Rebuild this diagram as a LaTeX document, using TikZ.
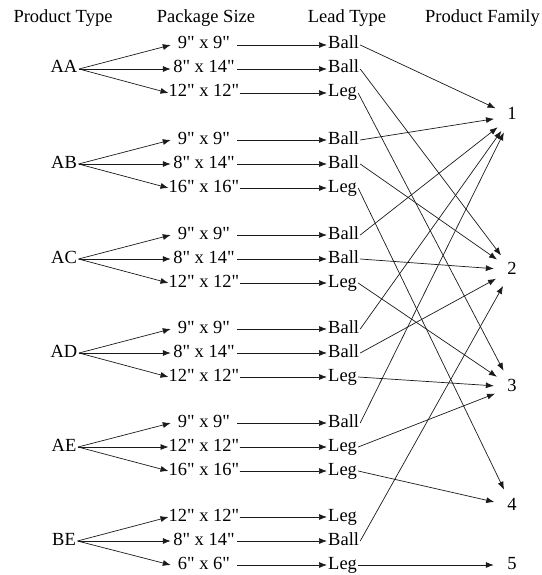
\documentclass[tikz,border=0pt]{standalone}
\usepackage{fontspec}
\setmainfont{Liberation Serif}[Ligatures=TeXOff]
\usepackage{xcolor}
\definecolor{cLine}{HTML}{1A1A1A}
\definecolor{cText}{HTML}{000000}
\usetikzlibrary{positioning,arrows.meta}
\tikzset{
  node-text/.style={font=\fontsize{18.5}{20}\selectfont,text=cText,
    text height=12pt,text depth=4pt},
  node-head/.style={node-text,inner sep=0pt},
  node-type/.style={node-text,inner sep=1.5pt},
  node-size/.style={node-text,inner sep=0pt,minimum width=66pt,align=center},
  node-lead/.style={node-text,inner sep=1pt,anchor=west},
  node-family/.style={node-text,circle,minimum size=36pt,inner sep=0pt},
  arrow/.style={-{Latex[length=8pt,width=6pt]},line width=0.7pt,draw=cLine},
}

\begin{document}
\begin{tikzpicture}[x=1pt,y=-1pt]
  \useasboundingbox (0,0) rectangle (541,575);
  % column headings
  \node[node-head] (h-type) at (63,19) {Product Type};
  \node[node-head] (h-size) at (206,19) {Package Size};
  \node[node-head] (h-lead) at (347,19) {Lead Type};
  \node[node-head,anchor=west] (h-family) at (425,19) {Product Family};
  % product families
  \node[node-family] (f-1) at (512,116) {1};
  \node[node-family] (f-2) at (512,270) {2};
  \node[node-family] (f-3) at (512,387) {3};
  \node[node-family] (f-4) at (512,506) {4};
  \node[node-family] (f-5) at (512,565) {5};
  % product type -> package size -> lead type
  \foreach \t/\y/\sa/\sb/\sc/\la/\lb/\lc in {
      AA/69/9" x 9"/8" x 14"/12" x 12"/Ball/Ball/Leg,
      AB/164/9" x 9"/8" x 14"/16" x 16"/Ball/Ball/Leg,
      AC/259/9" x 9"/8" x 14"/12" x 12"/Ball/Ball/Leg,
      AD/353/9" x 9"/8" x 14"/12" x 12"/Ball/Ball/Leg,
      AE/447/9" x 9"/12" x 12"/16" x 16"/Ball/Leg/Leg,
      BE/541/12" x 12"/8" x 14"/6" x 6"/Leg/Ball/Leg} {
    \node[node-type] (t-\t) at (64,\y) {\t};
    \node[node-size] (s-\t-1) at (204,\y-24) {\sa};
    \node[node-size] (s-\t-2) at (204,\y) {\sb};
    \node[node-size] (s-\t-3) at (204,\y+24) {\sc};
    \node[node-lead] (l-\t-1) at (327,\y-24) {\la};
    \node[node-lead] (l-\t-2) at (327,\y) {\lb};
    \node[node-lead] (l-\t-3) at (327,\y+24) {\lc};
    \foreach \k in {1,2,3} {
      \draw[arrow] (t-\t.east) -- (s-\t-\k.west);
      \draw[arrow] (s-\t-\k.east) -- (l-\t-\k.west);
    }
  }
  % lead type -> product family
  \foreach \a/\b in {AA-1/1,AA-2/2,AA-3/3,AB-1/1,AB-2/2,AB-3/4,
      AC-1/1,AC-2/2,AC-3/3,AD-1/1,AD-2/2,AD-3/3,AE-1/1,AE-2/3,AE-3/4,
      BE-2/2,BE-3/5}
    \draw[arrow] (l-\a.east) -- (f-\b);
\end{tikzpicture}
\end{document}
